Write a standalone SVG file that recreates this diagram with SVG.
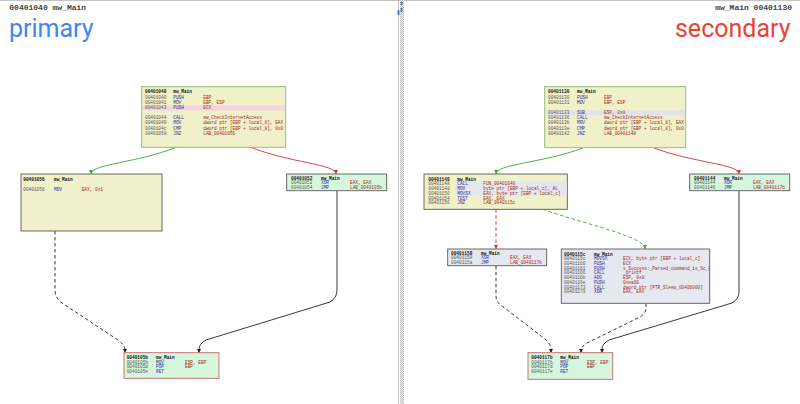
<svg xmlns="http://www.w3.org/2000/svg" width="800" height="404" viewBox="0 0 800 404">
<defs>
<style>
.t{font-family:"Liberation Mono","DejaVu Sans Mono",monospace;font-size:4.45px}
.h{fill:#111;font-weight:bold}
.a{fill:#555}
.m{fill:#2b2ba0}
.o{fill:#a02828}
.box{stroke-width:0.9}
.yel{fill:#f0f0c9}
.grn{fill:#d6f7dd}
.gry{fill:#e5e8ee}
.bOl{stroke:#93b46c}
.bDk{stroke:#5a5a5a}
.bRd{stroke:#c06868}
.e{fill:none;stroke-width:0.9}
.eg{stroke:#38aa38}
.er{stroke:#c83232}
.ek{stroke:#222}
.d{stroke-dasharray:3.5 2.5}
.title{font-family:Roboto,"Open Sans",sans-serif;font-size:25px}
.sub{font-family:"Liberation Mono","DejaVu Sans Mono",monospace;font-size:8px;fill:#444;font-weight:bold}
</style>
<marker id="ak" viewBox="0 0 6 6" markerWidth="4.5" markerHeight="4.5" refX="6" refY="3" orient="auto" markerUnits="userSpaceOnUse"><path d="M0,0 L6,3 L0,6 z" fill="#222"/></marker>
<marker id="ag" viewBox="0 0 6 6" markerWidth="4.5" markerHeight="4.5" refX="6" refY="3" orient="auto" markerUnits="userSpaceOnUse"><path d="M0,0 L6,3 L0,6 z" fill="#38aa38"/></marker>
<marker id="ar" viewBox="0 0 6 6" markerWidth="4.5" markerHeight="4.5" refX="6" refY="3" orient="auto" markerUnits="userSpaceOnUse"><path d="M0,0 L6,3 L0,6 z" fill="#c83232"/></marker>
<pattern id="hatch" width="2" height="2" patternUnits="userSpaceOnUse"><rect width="2" height="2" fill="#f2f2f2"/><rect width="1" height="1" fill="#bdbdbd"/><rect x="1" y="1" width="1" height="1" fill="#bdbdbd"/></pattern>
<clipPath id="c115c"><rect x="561.3" y="249" width="148.4" height="54.3"/></clipPath>
</defs>
<rect width="800" height="404" fill="#fff"/>
<g id="frame">
<line x1="0" y1="0.5" x2="800" y2="0.5" stroke="#c4c4c4"/>
<line x1="398.5" y1="0" x2="398.5" y2="404" stroke="#c4c4c4"/>
<rect x="400" y="0" width="4" height="404" fill="url(#hatch)"/>
<rect x="397.5" y="10" width="2" height="5" fill="#4a78c8"/>
<rect x="400.5" y="2" width="2" height="3" fill="#4a78c8"/>
<rect x="400.5" y="8" width="2" height="4" fill="#4a78c8"/>
</g>
<g id="headers">
<text class="sub" x="9.3" y="9.5">00401040 mw_Main</text>
<text class="title" x="9" y="37" fill="#4285f4">primary</text>
<text class="sub" x="792" y="9.5" text-anchor="end">mw_Main 00401130</text>
<text class="title" x="790.5" y="37" fill="#ea4335" text-anchor="end">secondary</text>
</g>
<g id="connectors">
<path class="e eg" d="M177,147 C137,163 91,164 91,174" marker-end="url(#ag)"/>
<path class="e er" d="M250,147 C290,163 336,164 336,174" marker-end="url(#ar)"/>
<path class="e ek d" d="M55,231 L55,290 Q55,298 62,303 L118,340 Q125,345 125,350 L125,353" marker-end="url(#ak)"/>
<path class="e ek" d="M337,191 L337,290 Q337,298 330,302 L206,340 Q199,344 199,349 L199,353" marker-end="url(#ak)"/>
<path class="e eg" d="M583,148 C543,163 496,164 496,174" marker-end="url(#ag)"/>
<path class="e er" d="M654,148 C694,163 739,164 739,174" marker-end="url(#ar)"/>
<path class="e er d" d="M496,209.3 L496,249" marker-end="url(#ar)"/>
<path class="e eg d" d="M543,209.3 C583,224 645,236 645,249" marker-end="url(#ag)"/>
<path class="e ek d" d="M496,265.7 L496,296 Q496,302 502,306 L545,339 Q551,344 551,349 L551,353" marker-end="url(#ak)"/>
<path class="e ek d" d="M646,303.3 L646,308 Q646,313 640,317 L587,343 Q581,347 581,350 L581,353" marker-end="url(#ak)"/>
<path class="e ek" d="M739,190.7 L739,292 Q739,299 732,303 L609,340 Q602,344 602,349 L602,353" marker-end="url(#ak)"/>
</g>
<g id="n00401040" class="t">
<rect class="box yel bOl" x="141.7" y="86.7" width="144" height="60.6"/>
<rect x="142.2" y="105.6" width="143" height="4.8" fill="#f6d3df"/>
<text x="145" y="93.3"><tspan class="h">00401040</tspan><tspan class="h" x="173.3">mw_Main</tspan></text>
<text x="145" y="98.9"><tspan class="a">00401040</tspan><tspan class="m" x="173.3">PUSH</tspan><tspan class="o" x="203.3">EBP</tspan></text>
<text x="145" y="104"><tspan class="a">00401041</tspan><tspan class="m" x="173.3">MOV</tspan><tspan class="o" x="203.3">EBP, ESP</tspan></text>
<text x="145" y="109.1"><tspan class="a">00401043</tspan><tspan class="m" x="173.3">PUSH</tspan><tspan class="o" x="203.3">ECX</tspan></text>
<text x="145" y="119.3"><tspan class="a">00401044</tspan><tspan class="m" x="173.3">CALL</tspan><tspan class="o" x="203.3">mw_CheckInternetAccess</tspan></text>
<text x="145" y="124.4"><tspan class="a">00401049</tspan><tspan class="m" x="173.3">MOV</tspan><tspan class="o" x="203.3">dword ptr [EBP + local_8], EAX</tspan></text>
<text x="145" y="129.5"><tspan class="a">0040104c</tspan><tspan class="m" x="173.3">CMP</tspan><tspan class="o" x="203.3">dword ptr [EBP + local_8], 0x0</tspan></text>
<text x="145" y="134.6"><tspan class="a">00401050</tspan><tspan class="m" x="173.3">JNZ</tspan><tspan class="o" x="203.3">LAB_00401056</tspan></text>
</g>
<g id="n00401056" class="t">
<rect class="box yel bDk" x="21" y="174" width="141" height="57"/>
<text x="23.3" y="180.6"><tspan class="h">00401056</tspan><tspan class="h" x="54">mw_Main</tspan></text>
<text x="23.3" y="190.6"><tspan class="a">00401056</tspan><tspan class="m" x="54">MOV</tspan><tspan class="o" x="81.7">EAX, 0x1</tspan></text>
</g>
<g id="n00401052" class="t">
<rect class="box grn bDk" x="286.7" y="174" width="100" height="16.7"/>
<text x="291" y="179.9"><tspan class="h">00401052</tspan><tspan class="h" x="321">mw_Main</tspan></text>
<text x="291" y="184.4"><tspan class="a">00401052</tspan><tspan class="m" x="321">XOR</tspan><tspan class="o" x="350">EAX, EAX</tspan></text>
<text x="291" y="188.9"><tspan class="a">00401054</tspan><tspan class="m" x="321">JMP</tspan><tspan class="o" x="350">LAB_0040105b</tspan></text>
</g>
<g id="n0040105b" class="t">
<rect class="box grn bRd" x="124" y="352.7" width="95" height="25.6"/>
<text x="126.7" y="358.9"><tspan class="h">0040105b</tspan><tspan class="h" x="156">mw_Main</tspan></text>
<text x="126.7" y="363.5"><tspan class="a">0040105b</tspan><tspan class="m" x="156">MOV</tspan><tspan class="o" x="185">ESP, EBP</tspan></text>
<text x="126.7" y="368.1"><tspan class="a">0040105d</tspan><tspan class="m" x="156">POP</tspan><tspan class="o" x="185">EBP</tspan></text>
<text x="126.7" y="372.7"><tspan class="a">0040105e</tspan><tspan class="m" x="156">RET</tspan></text>
</g>
<g id="n00401130" class="t">
<rect class="box yel bOl" x="544.7" y="86.7" width="141" height="61"/>
<rect x="545.2" y="110.5" width="140" height="4.8" fill="#e2e2ea"/>
<text x="548" y="93.3"><tspan class="h">00401130</tspan><tspan class="h" x="577">mw_Main</tspan></text>
<text x="548" y="98.9"><tspan class="a">00401130</tspan><tspan class="m" x="577">PUSH</tspan><tspan class="o" x="604">EBP</tspan></text>
<text x="548" y="104"><tspan class="a">00401131</tspan><tspan class="m" x="577">MOV</tspan><tspan class="o" x="604">EBP, ESP</tspan></text>
<text x="548" y="114.2"><tspan class="a">00401133</tspan><tspan class="m" x="577">SUB</tspan><tspan class="o" x="604">ESP, 0x8</tspan></text>
<text x="548" y="119.3"><tspan class="a">00401136</tspan><tspan class="m" x="577">CALL</tspan><tspan class="o" x="604">mw_CheckInternetAccess</tspan></text>
<text x="548" y="124.4"><tspan class="a">0040113b</tspan><tspan class="m" x="577">MOV</tspan><tspan class="o" x="604">dword ptr [EBP + local_8], EAX</tspan></text>
<text x="548" y="129.5"><tspan class="a">0040113e</tspan><tspan class="m" x="577">CMP</tspan><tspan class="o" x="604">dword ptr [EBP + local_8], 0x0</tspan></text>
<text x="548" y="134.6"><tspan class="a">00401142</tspan><tspan class="m" x="577">JNZ</tspan><tspan class="o" x="604">LAB_00401148</tspan></text>
</g>
<g id="n00401148" class="t">
<rect class="box yel bDk" x="424" y="174" width="143.3" height="35.3"/>
<rect x="455" y="181.5" width="111.8" height="13.6" fill="#e6e6ee"/>
<text x="428.3" y="180.6"><tspan class="h">00401148</tspan><tspan class="h" x="457.3">mw_Main</tspan></text>
<text x="428.3" y="185.4"><tspan class="a">00401148</tspan><tspan class="m" x="457.3">CALL</tspan><tspan class="o" x="483.3">FUN_00401040</tspan></text>
<text x="428.3" y="190.1"><tspan class="a">0040114d</tspan><tspan class="m" x="457.3">MOV</tspan><tspan class="o" x="483.3">byte ptr [EBP + local_c], AL</tspan></text>
<text x="428.3" y="194.8"><tspan class="a">00401150</tspan><tspan class="m" x="457.3">MOVSX</tspan><tspan class="o" x="483.3">EAX, byte ptr [EBP + local_c]</tspan></text>
<text x="428.3" y="199.5"><tspan class="a">00401154</tspan><tspan class="m" x="457.3">TEST</tspan><tspan class="o" x="483.3">EAX, EAX</tspan></text>
<text x="428.3" y="204.2"><tspan class="a">00401156</tspan><tspan class="m" x="457.3">JNZ</tspan><tspan class="o" x="483.3">LAB_0040115c</tspan></text>
</g>
<g id="n00401144" class="t">
<rect class="box grn bDk" x="689.7" y="174" width="100" height="16.7"/>
<text x="694" y="179.9"><tspan class="h">00401144</tspan><tspan class="h" x="724">mw_Main</tspan></text>
<text x="694" y="184.4"><tspan class="a">00401144</tspan><tspan class="m" x="724">XOR</tspan><tspan class="o" x="753">EAX, EAX</tspan></text>
<text x="694" y="188.9"><tspan class="a">00401146</tspan><tspan class="m" x="724">JMP</tspan><tspan class="o" x="753">LAB_0040117b</tspan></text>
</g>
<g id="n00401158" class="t">
<rect class="box gry bDk" x="447.7" y="249" width="99" height="16.7"/>
<text x="451" y="254.9"><tspan class="h">00401158</tspan><tspan class="h" x="481">mw_Main</tspan></text>
<text x="451" y="259.4"><tspan class="a">00401158</tspan><tspan class="m" x="481">XOR</tspan><tspan class="o" x="510">EAX, EAX</tspan></text>
<text x="451" y="263.9"><tspan class="a">0040115a</tspan><tspan class="m" x="481">JMP</tspan><tspan class="o" x="510">LAB_0040117b</tspan></text>
</g>
<g id="n0040115c" class="t">
<rect class="box gry bDk" x="561.3" y="249" width="148.4" height="54.3"/>
<g clip-path="url(#c115c)">
<text x="564" y="255.6"><tspan class="h">0040115c</tspan><tspan class="h" x="594">mw_Main</tspan></text>
<text x="564" y="260.3"><tspan class="a">0040115c</tspan><tspan class="m" x="594">MOVSX</tspan><tspan class="o" x="623">ECX, byte ptr [EBP + local_c]</tspan></text>
<text x="564" y="265"><tspan class="a">00401160</tspan><tspan class="m" x="594">PUSH</tspan><tspan class="o" x="623">ECX</tspan></text>
<text x="564" y="269.7"><tspan class="a">00401161</tspan><tspan class="m" x="594">PUSH</tspan><tspan class="o" x="623">s_Success:_Parsed_command_is_%c_00407030</tspan></text>
<text x="564" y="274.4"><tspan class="a">00401166</tspan><tspan class="m" x="594">CALL</tspan><tspan class="o" x="623">_printf</tspan></text>
<text x="564" y="279.1"><tspan class="a">0040116b</tspan><tspan class="m" x="594">ADD</tspan><tspan class="o" x="623">ESP, 0x8</tspan></text>
<text x="564" y="283.8"><tspan class="a">0040116e</tspan><tspan class="m" x="594">PUSH</tspan><tspan class="o" x="623">0xea60</tspan></text>
<text x="564" y="288.5"><tspan class="a">00401173</tspan><tspan class="m" x="594">CALL</tspan><tspan class="o" x="623">dword ptr [PTR_Sleep_00406000]</tspan></text>
<text x="564" y="293.2"><tspan class="a">00401179</tspan><tspan class="m" x="594">XOR</tspan><tspan class="o" x="623">EAX, EAX</tspan></text>
</g>
</g>
<g id="n0040117b" class="t">
<rect class="box grn bRd" x="528" y="352.7" width="84.7" height="26.6"/>
<text x="531.3" y="358.9"><tspan class="h">0040117b</tspan><tspan class="h" x="560.3">mw_Main</tspan></text>
<text x="531.3" y="363.5"><tspan class="a">0040117b</tspan><tspan class="m" x="560.3">MOV</tspan><tspan class="o" x="587">ESP, EBP</tspan></text>
<text x="531.3" y="368.1"><tspan class="a">0040117d</tspan><tspan class="m" x="560.3">POP</tspan><tspan class="o" x="587">EBP</tspan></text>
<text x="531.3" y="372.7"><tspan class="a">0040117e</tspan><tspan class="m" x="560.3">RET</tspan></text>
</g>
</svg>
